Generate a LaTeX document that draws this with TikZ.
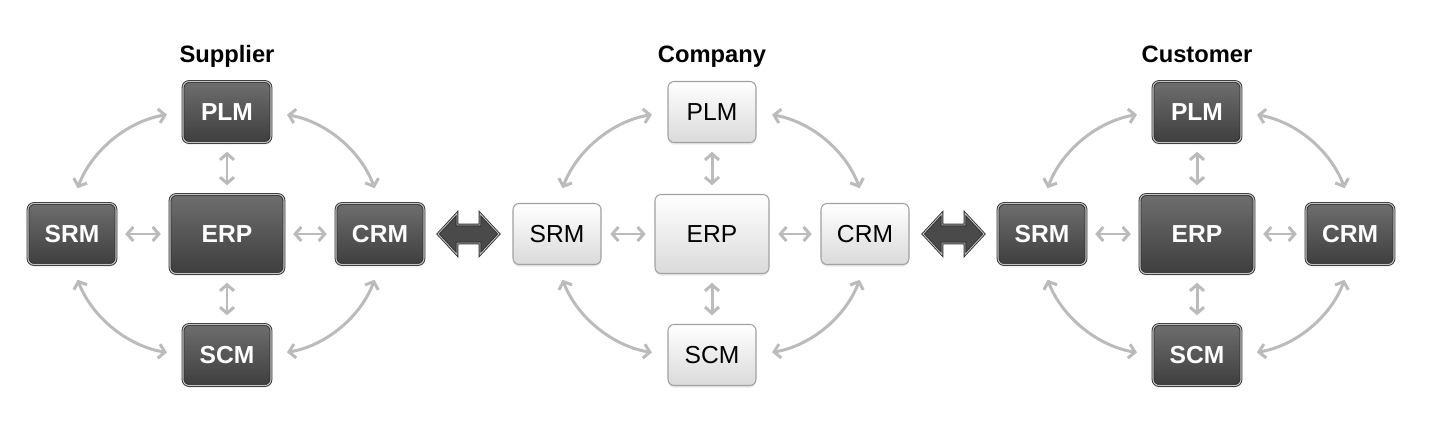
\documentclass[tikz,border=0pt]{standalone}
\usepackage{fontspec}
\setmainfont{Liberation Sans}
\usetikzlibrary{arrows.meta,shadows,calc}

\definecolor{topdark}{HTML}{6E6E6E}
\definecolor{botdark}{HTML}{3E3E3E}
\definecolor{rimdark}{HTML}{2E2E2E}
\definecolor{rimlight}{HTML}{C4C4C4}
\definecolor{botlight}{HTML}{DADADA}
\definecolor{rimgray}{HTML}{A0A0A0}
\definecolor{linkgray}{HTML}{BBBBBB}
\definecolor{arrowdark}{HTML}{4A4A4A}

\tikzset{
  box/.style={rounded corners=3.5pt, minimum width=1.76cm, minimum height=1.22cm, inner sep=0pt,
    drop shadow={shadow xshift=0pt, shadow yshift=-1.2pt, opacity=0.18}},
  big/.style={minimum width=2.28cm, minimum height=1.58cm},
  darkbox/.style={box, top color=topdark, bottom color=botdark, draw=rimdark, double=rimlight,
    double distance=0.6pt, line width=0.5pt, text=white, font=\fontsize{14}{16}\selectfont\bfseries},
  lightbox/.style={box, top color=white, bottom color=botlight, draw=rimgray, line width=0.6pt,
    text=black, font=\fontsize{14}{16}\selectfont},
  link/.style={draw=linkgray, line width=1.7pt,
    {Straight Barb[length=3.5pt,width=8pt]}-{Straight Barb[length=3.5pt,width=8pt]},
    shorten <=5pt, shorten >=5pt},
  curvelink/.style={link, shorten <=9pt, shorten >=9pt},
  title/.style={font=\fontsize{13.5}{16}\selectfont\bfseries, anchor=base},
  bigarrow/.style={fill=arrowdark, draw=rimdark, double=rimlight, double distance=0.5pt,
    line width=0.5pt, line join=miter}
}

\begin{document}
\begin{tikzpicture}[x=0.02cm, y=0.02cm]

\useasboundingbox (0,0) rectangle (1434,423);

\foreach \g/\x/\kind/\name in {sup/227/darkbox/Supplier, com/712/lightbox/Company, cus/1197/darkbox/Customer}{
  \node[title] (\g-title) at (\x,360) {\name};
  \node[\kind] (\g-plm) at (\x,311) {PLM};
  \node[\kind,big] (\g-erp) at (\x,189) {ERP};
  \node[\kind] (\g-scm) at (\x,68) {SCM};
  \node[\kind] (\g-srm) at (\x-155,189) {SRM};
  \node[\kind] (\g-crm) at (\x+153,189) {CRM};

  \draw[link] (\g-srm) -- (\g-erp);
  \draw[link] (\g-erp) -- (\g-crm);
  \draw[link] (\g-plm) -- (\g-erp);
  \draw[link] (\g-erp) -- (\g-scm);

  \draw[curvelink] (\g-plm.west) to[bend right=30] (\g-srm.north);
  \draw[curvelink] (\g-srm.south) to[bend right=30] (\g-scm.west);
  \draw[curvelink] (\g-scm.east) to[bend right=30] (\g-crm.south);
  \draw[curvelink] (\g-crm.north) to[bend right=30] (\g-plm.east);
}

\path[bigarrow] ($(sup-crm.east)!0.5!(com-srm.west)$) ++(-30.5,0) -- ++(19,20.5) -- ++(0,-11.5)
  -- ++(23,0) -- ++(0,11.5) -- ++(19,-20.5) -- ++(-19,-20.5) -- ++(0,11.5) -- ++(-23,0) -- ++(0,-11.5) -- cycle;
\path[bigarrow] ($(com-crm.east)!0.5!(cus-srm.west)$) ++(-30.5,0) -- ++(19,20.5) -- ++(0,-11.5)
  -- ++(23,0) -- ++(0,11.5) -- ++(19,-20.5) -- ++(-19,-20.5) -- ++(0,11.5) -- ++(-23,0) -- ++(0,-11.5) -- cycle;

\end{tikzpicture}
\end{document}
